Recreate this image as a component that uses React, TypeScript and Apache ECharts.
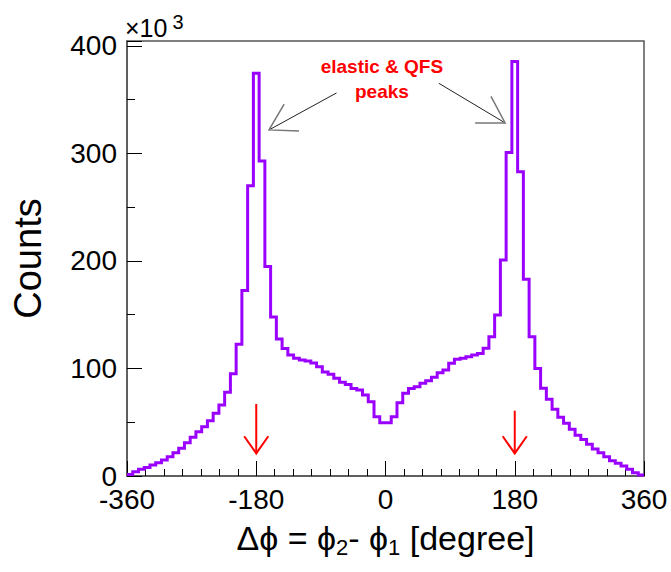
import React, { useEffect, useRef } from 'react';
import * as echarts from 'echarts';

// Histogram: Δφ bins (degree), 8° wide from -360 to 360, counts in units of 10^3
const binStart = -360;
const binWidth = 8;
const countsK = [
  1.5, 4, 6.2, 8, 10.2, 12.4, 14.9, 18, 21.7, 25.7, 31, 36, 41.2, 45.9, 51.5, 58.3, 66, 77.8, 95.2, 122.5,
  172.5, 270, 374.6, 293, 194.8, 148, 127.4, 118.5, 112.6, 109.5, 108, 107, 105.2, 101.7, 96.8, 94.6, 90.9, 87.2, 85.2, 81.5,
  80, 75.3, 69, 55, 49.6, 49.6, 55, 68.2, 76.9, 81.5, 83, 86.2, 88.7, 91.8, 96.1, 98.6, 104.8, 108.5, 109.5, 111,
  112.6, 114, 118.8, 129.6, 149.8, 201, 300.8, 385.5, 283, 183, 129.5, 100, 81.6, 71.3, 62, 54.6, 49, 43.4, 38, 34,
  29.5, 25, 21.7, 18, 14.2, 11.8, 9.3, 6.2, 3, 0.9,
];
const xTicks = [-360, -180, 0, 180, 360];
const yTicks = [0, 100, 200, 300, 400];
const xRange = [-360, 360];
const yRange = [0, 404.6];

// annotations in data coordinates
const peakArrows = [
  { from: [-68.2, 356.3], to: [-162.2, 321.9] },
  { from: [74.2, 365.3], to: [166.6, 328.4] },
];
const markerArrows = [
  { from: [-180, 67], to: [-180, 21] },
  { from: [180, 60.7], to: [180, 21] },
];
const noteLines = ['elastic & QFS', 'peaks'];
const noteAnchor = [-5, 380.5];
const noteAnchor2 = [-5, 357.3];

const FONT = '"Liberation Sans", Arial, Helvetica, sans-serif';
const PURPLE = '#9a00ff';
const FRAME = '#555555';

export default function App() {
  const ref = useRef<HTMLDivElement>(null);

  useEffect(() => {
    if (!ref.current) return;
    const chart = echarts.init(ref.current, null, { renderer: 'svg' });

    const stepData: number[][] = countsK.map((v, i) => [binStart + i * binWidth, v]);
    stepData.push([binStart + countsK.length * binWidth, countsK[countsK.length - 1]]);

    const tickLine = { color: '#000', width: 1 };

    const option: any = {
      animation: false,
      grid: {
        left: 127, right: 27, top: 41, bottom: 96,
        show: true, borderColor: FRAME, borderWidth: 1.5, backgroundColor: 'transparent',
      },
      xAxis: {
        type: 'value', min: xRange[0], max: xRange[1], interval: 180,
        axisLine: { show: true, onZero: false, lineStyle: { color: FRAME, width: 1.5 } },
        axisTick: { show: true, inside: true, length: 15, lineStyle: tickLine },
        minorTick: { show: true, splitNumber: 7, length: 7, lineStyle: tickLine },
        splitLine: { show: false },
        minorSplitLine: { show: false },
        axisLabel: {
          show: true, margin: 12, fontSize: 28, lineHeight: 22, fontFamily: FONT, color: '#000',
          formatter: (v: number) => (xTicks.includes(v) ? String(v) : ''),
        },
        name: '{a|Δϕ = ϕ}{s|2}{a|- ϕ}{s|1}{a| [degree]}',
        nameLocation: 'middle', nameGap: 42,
        nameTextStyle: {
          rich: {
            a: { fontSize: 34, fontFamily: FONT, color: '#000', lineHeight: 40, verticalAlign: 'middle' },
            s: { fontSize: 22, fontFamily: FONT, color: '#000', lineHeight: 22, verticalAlign: 'bottom' },
          },
        },
      },
      yAxis: [
        {
          type: 'value', min: yRange[0], max: yRange[1], interval: 100,
          axisLine: { show: true, onZero: false, lineStyle: { color: FRAME, width: 1.5 } },
          axisTick: { show: true, inside: true, length: 15, lineStyle: tickLine },
          splitLine: { show: false },
          axisLabel: {
            show: true, margin: 10, fontSize: 28, lineHeight: 20, fontFamily: FONT, color: '#000',
            formatter: (v: number) => (yTicks.includes(v) ? String(v) : ''),
          },
          name: 'Counts', nameLocation: 'middle', nameGap: 80,
          nameTextStyle: { fontSize: 38, fontFamily: FONT, color: '#000' },
        },
        {
          type: 'value', min: yRange[0], max: yRange[1], interval: 50, position: 'left',
          axisLine: { show: false, onZero: false },
          axisTick: { show: true, inside: true, length: 8, lineStyle: tickLine },
          splitLine: { show: false },
          axisLabel: { show: false },
        },
      ],
      series: [
        {
          type: 'line',
          step: 'end',
          data: stepData,
          xAxisIndex: 0,
          yAxisIndex: 0,
          showSymbol: false,
          symbol: 'none',
          lineStyle: { color: PURPLE, width: 3, join: 'miter', cap: 'butt' },
          silent: true,
        },
      ],
      graphic: [
        {
          type: 'text', left: 125, top: 12,
          style: {
            text: '{a|×10}{b|3}',
            rich: {
              a: { fontSize: 25, fontFamily: FONT, fill: '#000', lineHeight: 32, verticalAlign: 'middle' },
              b: { fontSize: 20, fontFamily: FONT, fill: '#000', lineHeight: 19, verticalAlign: 'top', padding: [0, 0, 0, 5] },
            },
          },
        },
      ],
    };
    chart.setOption(option);

    const px = (p: number[]) => chart.convertToPixel({ xAxisIndex: 0, yAxisIndex: 0 }, p) as number[];
    const wings = (s: number[], t: number[], len: number, halfDeg: number) => {
      const dx = s[0] - t[0];
      const dy = s[1] - t[1];
      const a = Math.atan2(dy, dx);
      const h = (halfDeg * Math.PI) / 180;
      return [
        [t[0] + len * Math.cos(a + h), t[1] + len * Math.sin(a + h)],
        [t[0] + len * Math.cos(a - h), t[1] + len * Math.sin(a - h)],
      ];
    };

    const extra: any[] = [];
    peakArrows.forEach((ar) => {
      const s = px(ar.from);
      const t = px(ar.to);
      const [w1, w2] = wings(s, t, 30, 31);
      extra.push({ type: 'line', shape: { x1: s[0], y1: s[1], x2: t[0], y2: t[1] }, style: { stroke: '#222', lineWidth: 1 } });
      extra.push({ type: 'polyline', shape: { points: [w1, t, w2] }, style: { stroke: '#777', lineWidth: 1.5, fill: 'none' } });
    });
    markerArrows.forEach((ar) => {
      const s = px(ar.from);
      const t = px(ar.to);
      const [w1, w2] = wings(s, t, 21, 35);
      extra.push({ type: 'line', shape: { x1: s[0], y1: s[1], x2: t[0], y2: t[1] }, style: { stroke: '#ff0000', lineWidth: 2 } });
      extra.push({ type: 'polyline', shape: { points: [w1, t, w2] }, style: { stroke: '#ff0000', lineWidth: 2, fill: 'none' } });
    });
    const n1 = px(noteAnchor);
    const n2 = px(noteAnchor2);
    extra.push({
      type: 'text', x: n1[0], y: n1[1],
      style: { text: noteLines[0], fill: '#ff0000', fontSize: 19, fontWeight: 'bold', fontFamily: FONT, align: 'center', verticalAlign: 'middle' },
    });
    extra.push({
      type: 'text', x: n2[0], y: n2[1],
      style: { text: noteLines[1], fill: '#ff0000', fontSize: 19, fontWeight: 'bold', fontFamily: FONT, align: 'center', verticalAlign: 'middle' },
    });

    chart.setOption({ graphic: [...option.graphic, ...extra] });

    return () => chart.dispose();
  }, []);

  return <div ref={ref} style={{ position: 'fixed', left: 0, top: 0, width: 671, height: 572, background: '#fff' }} />;
}
